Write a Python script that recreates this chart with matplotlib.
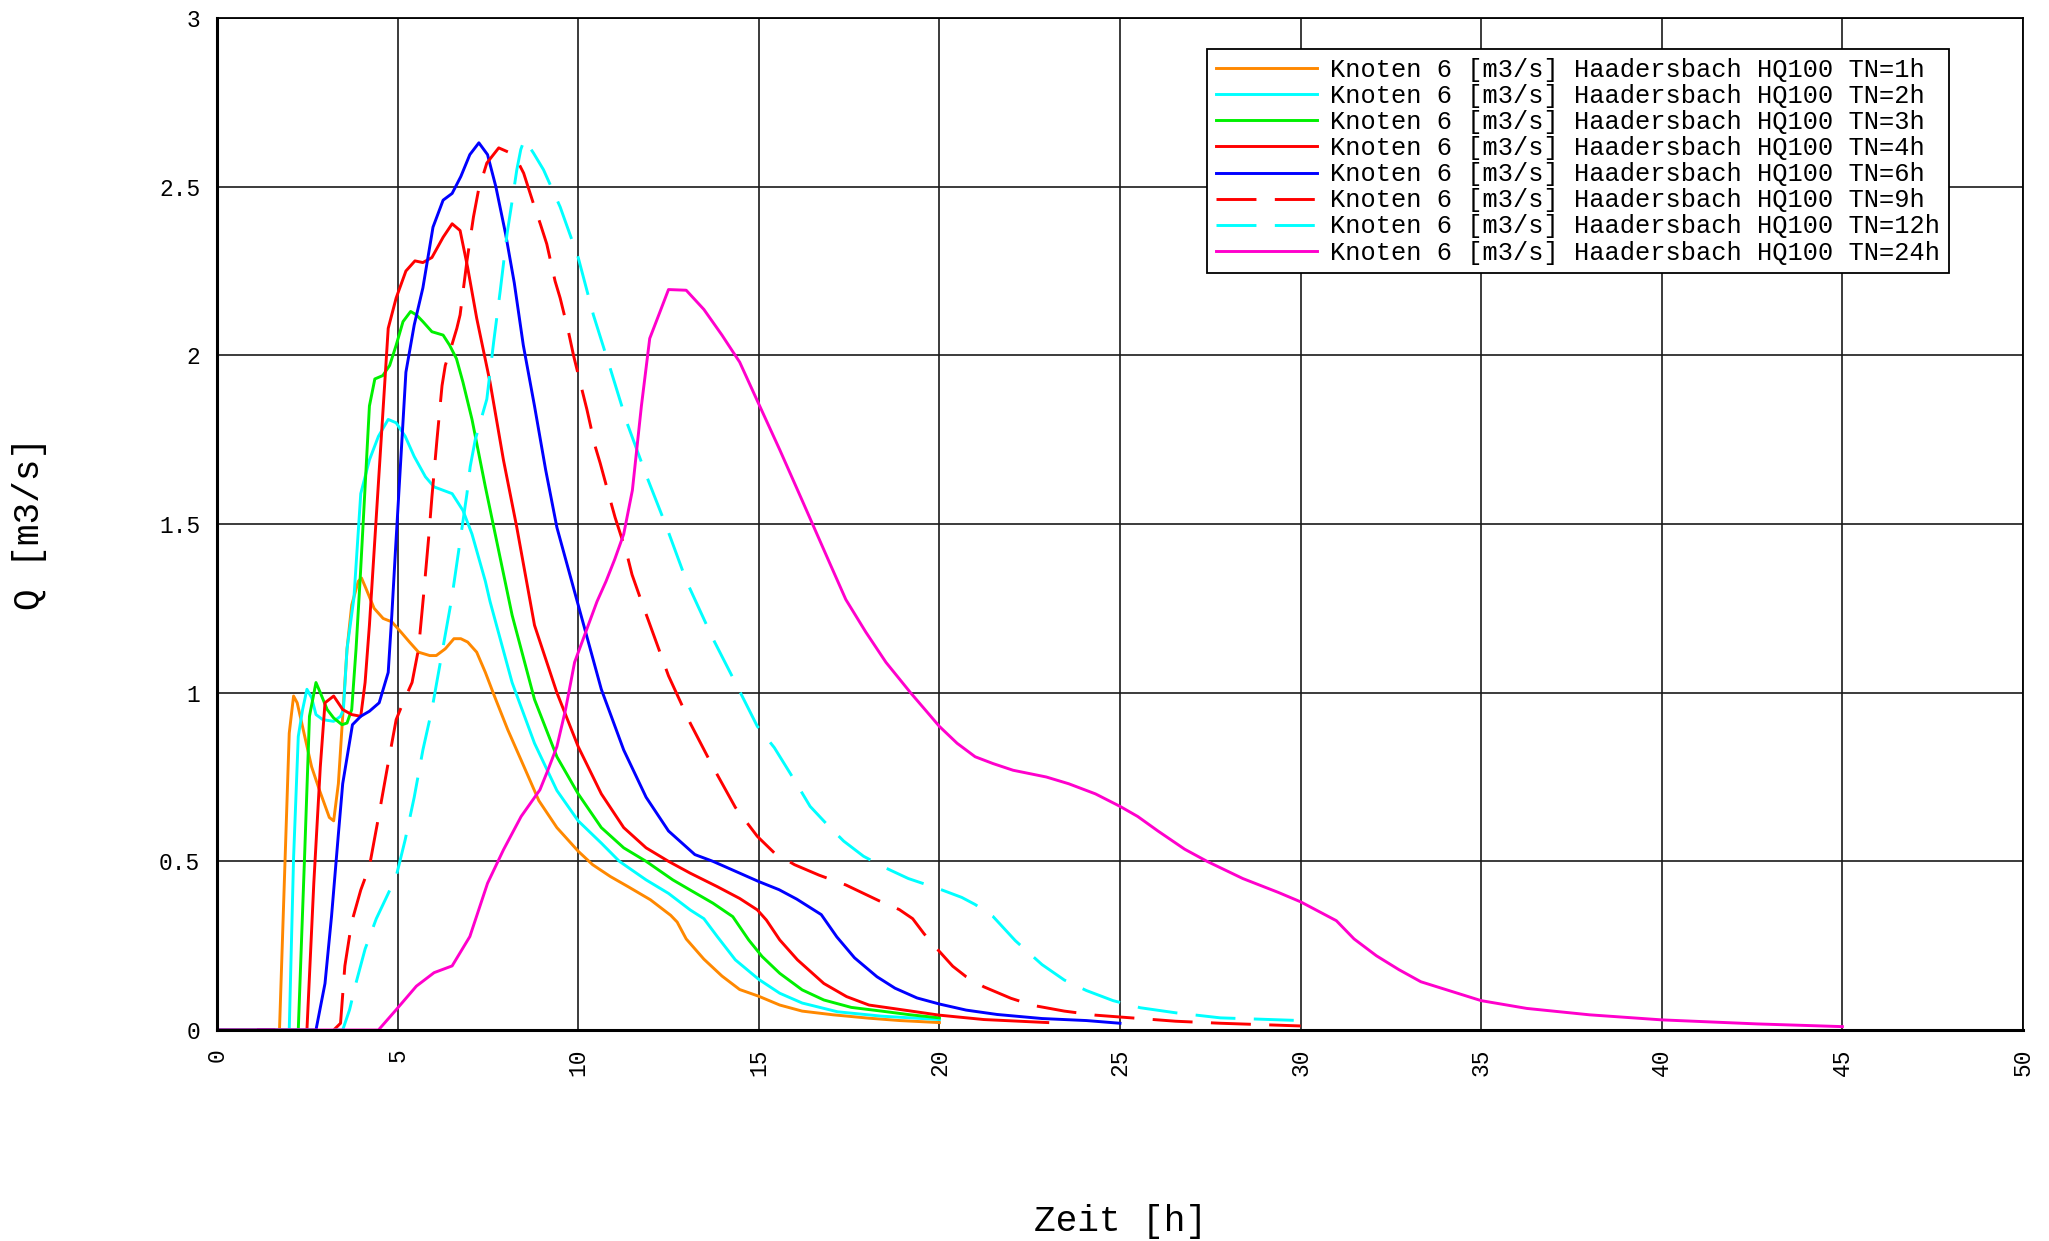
import matplotlib
matplotlib.use('Agg')
import matplotlib.pyplot as plt
from matplotlib.ticker import FormatStrFormatter

plt.rcParams['font.family'] = ['Liberation Mono', 'DejaVu Sans Mono']

# Hydrographs, Knoten 6 Haadersbach HQ100
t_1h = [0, 1.73, 1.88, 2.0, 2.12, 2.22, 2.43, 2.62, 2.84, 3.11, 3.23, 3.36, 3.48, 3.6, 3.73,
        3.91, 4.0, 4.12, 4.35, 4.6, 4.84, 5.09, 5.33, 5.58, 5.89, 6.07, 6.32, 6.56, 6.75, 6.94,
        7.19, 7.43, 7.68, 8.05, 8.42, 8.91, 9.41, 10.0, 10.4, 10.89, 11.38, 12.0, 12.56, 12.74,
        12.99, 13.48, 13.98, 14.47, 15.0, 15.58, 16.2, 17.06, 18.05, 18.9, 20.0]
q_1h = [0, 0, 0.49, 0.88, 0.99, 0.97, 0.87, 0.78, 0.71, 0.63, 0.62, 0.73, 0.93, 1.13, 1.26,
        1.33, 1.34, 1.31, 1.25, 1.22, 1.21, 1.18, 1.15, 1.12, 1.11, 1.11, 1.13, 1.16, 1.16, 1.15,
        1.12, 1.06, 0.99, 0.89, 0.80, 0.68, 0.60, 0.53, 0.49, 0.455, 0.425, 0.386, 0.34, 0.32,
        0.27, 0.21, 0.16, 0.12, 0.10, 0.074, 0.056, 0.045, 0.035, 0.028, 0.022]

t_2h = [0, 2.0, 2.12, 2.25, 2.37, 2.49, 2.62, 2.74, 2.93, 3.23, 3.42, 3.5, 3.6, 3.79, 3.98,
        4.22, 4.47, 4.74, 4.96, 5.21, 5.46, 5.77, 6.01, 6.26, 6.51, 6.81, 7.06, 7.43, 7.56, 8.17,
        8.79, 9.41, 10.0, 10.64, 11.14, 11.88, 12.5, 13.1, 13.48, 13.85, 14.35, 15.0, 15.58,
        16.2, 17.18, 18.4, 20.0]
q_2h = [0, 0, 0.51, 0.87, 0.95, 1.01, 0.985, 0.935, 0.92, 0.915, 0.93, 0.95, 1.13, 1.28, 1.59,
        1.69, 1.76, 1.81, 1.80, 1.76, 1.70, 1.64, 1.61, 1.60, 1.59, 1.54, 1.47, 1.33, 1.27, 1.03,
        0.85, 0.71, 0.62, 0.554, 0.50, 0.445, 0.405, 0.356, 0.33, 0.277, 0.208, 0.15, 0.109,
        0.08, 0.054, 0.041, 0.031]

t_3h = [0, 2.25, 2.43, 2.56, 2.74, 2.86, 3.05, 3.23, 3.46, 3.6, 3.73, 3.85, 3.97, 4.22, 4.37,
        4.59, 4.78, 4.96, 5.15, 5.36, 5.52, 5.7, 5.95, 6.26, 6.44, 6.63, 6.81, 7.06, 7.43, 7.8,
        8.17, 8.79, 9.41, 10.0, 10.64, 11.26, 11.88, 12.62, 13.1, 13.73, 14.28, 14.72, 15.09,
        15.58, 16.2, 16.8, 17.56, 18.4, 19.2, 20.0]
q_3h = [0, 0, 0.53, 0.93, 1.03, 1.0, 0.95, 0.925, 0.905, 0.91, 0.95, 1.13, 1.35, 1.85, 1.93,
        1.94, 1.97, 2.03, 2.10, 2.13, 2.12, 2.10, 2.07, 2.06, 2.03, 1.99, 1.92, 1.81, 1.61, 1.42,
        1.23, 0.98, 0.81, 0.70, 0.60, 0.54, 0.50, 0.445, 0.415, 0.376, 0.336, 0.267, 0.218,
        0.168, 0.119, 0.089, 0.067, 0.056, 0.045, 0.036]

t_4h = [0, 2.49, 2.68, 2.86, 2.99, 3.23, 3.48, 3.73, 3.98, 4.1, 4.22, 4.74, 4.96, 5.23, 5.48,
        5.7, 5.95, 6.26, 6.51, 6.73, 6.94, 7.19, 7.56, 7.93, 8.3, 8.79, 9.41, 10.0, 10.64, 11.26,
        11.88, 12.5, 13.1, 13.85, 14.47, 14.96, 15.21, 15.58, 16.07, 16.8, 17.43, 18.05, 18.77,
        20.0, 21.23, 23.0]
q_4h = [0, 0, 0.435, 0.78, 0.97, 0.99, 0.95, 0.935, 0.93, 1.03, 1.2, 2.08, 2.17, 2.25, 2.28,
        2.275, 2.29, 2.35, 2.39, 2.37, 2.26, 2.11, 1.92, 1.69, 1.49, 1.2, 1.0, 0.84, 0.70, 0.60,
        0.54, 0.50, 0.465, 0.425, 0.39, 0.356, 0.326, 0.267, 0.208, 0.138, 0.099, 0.074, 0.063,
        0.044, 0.031, 0.022]

t_6h = [0, 2.74, 2.99, 3.17, 3.36, 3.48, 3.75, 3.98, 4.22, 4.49, 4.74, 4.84, 4.94, 5.23, 5.46,
        5.7, 5.98, 6.26, 6.51, 6.75, 7.0, 7.25, 7.49, 7.72, 7.99, 8.23, 8.48, 8.79, 9.1, 9.41,
        10.0, 10.64, 11.26, 11.88, 12.5, 13.23, 13.73, 15.0, 15.56, 16.05, 16.73, 17.16, 17.65,
        18.27, 18.77, 19.38, 20.0, 20.74, 21.6, 22.84, 24.07, 25.0]
q_6h = [0, 0, 0.138, 0.336, 0.58, 0.73, 0.905, 0.93, 0.945, 0.97, 1.06, 1.23, 1.42, 1.95, 2.09,
        2.20, 2.38, 2.46, 2.48, 2.53, 2.595, 2.63, 2.595, 2.50, 2.36, 2.215, 2.03, 1.85, 1.66,
        1.49, 1.26, 1.01, 0.83, 0.69, 0.59, 0.52, 0.50, 0.44, 0.416, 0.388, 0.342, 0.276, 0.214,
        0.158, 0.124, 0.095, 0.077, 0.059, 0.046, 0.034, 0.028, 0.02]

t_9h = [0, 3.23, 3.42, 3.54, 3.73, 3.98, 4.22, 4.47, 4.72, 4.96, 5.15, 5.4, 5.58, 5.72, 5.86,
        5.95, 6.09, 6.23, 6.32, 6.5, 6.64, 6.73, 6.92, 7.1, 7.24, 7.47, 7.8, 8.12, 8.3, 8.49,
        8.76, 8.95, 9.13, 9.36, 9.5, 9.73, 9.87, 10.1, 10.24, 10.47, 10.61, 10.89, 11.02, 11.35,
        11.49, 11.72, 12.5, 13.1, 13.73, 14.35, 14.96, 15.43, 15.99, 16.67, 17.41, 18.33, 18.89,
        19.26, 19.57, 19.94, 20.37, 20.74, 21.23, 21.98, 22.59, 23.46, 24.32, 25.31, 26.54,
        27.78, 30.0]
q_9h = [0, 0, 0.02, 0.19, 0.32, 0.415, 0.485, 0.63, 0.78, 0.92, 0.97, 1.03, 1.13, 1.29, 1.46,
        1.58, 1.75, 1.91, 1.97, 2.03, 2.08, 2.12, 2.28, 2.41, 2.49, 2.57, 2.615, 2.6, 2.58, 2.54,
        2.45, 2.39, 2.33, 2.22, 2.17, 2.07, 2.0, 1.90, 1.84, 1.73, 1.68, 1.57, 1.52, 1.41,
        1.35, 1.28, 1.05, 0.91, 0.78, 0.66, 0.574, 0.525, 0.49, 0.459, 0.43, 0.383, 0.357,
        0.33, 0.286, 0.24, 0.189, 0.158, 0.128, 0.094, 0.073, 0.056, 0.044, 0.036, 0.026,
        0.020, 0.012]

t_12h = [0, 3.48, 3.67, 3.85, 4.1, 4.41, 4.72, 4.96, 5.21, 5.46, 5.7, 5.95, 6.2, 6.5, 6.69,
         6.92, 7.01, 7.15, 7.47, 7.66, 7.84, 8.03, 8.16, 8.3, 8.41, 8.51, 8.76, 9.04, 9.5, 10.0,
         10.42, 10.89, 11.35, 11.9, 12.45, 13.0, 13.73, 14.35, 14.96, 15.43, 15.99, 16.42,
         16.91, 17.35, 17.9, 18.52, 19.14, 20.0, 20.62, 20.99, 21.48, 22.1, 22.84, 23.46, 24.07,
         24.81, 25.56, 26.54, 27.78, 30.0]
q_12h = [0, 0, 0.06, 0.14, 0.24, 0.33, 0.40, 0.455, 0.564, 0.69, 0.83, 0.95, 1.10, 1.28, 1.42,
         1.59, 1.67, 1.75, 1.87, 2.04, 2.19, 2.36, 2.45, 2.55, 2.61, 2.64, 2.6, 2.55, 2.44, 2.29,
         2.12, 1.96, 1.80, 1.64, 1.49, 1.33, 1.16, 1.03, 0.90, 0.837, 0.74, 0.663, 0.607, 0.56,
         0.515, 0.48, 0.449, 0.418, 0.393, 0.372, 0.337, 0.265, 0.194, 0.148, 0.117, 0.087,
         0.066, 0.051, 0.036, 0.028]

t_24h = [0, 4.47, 4.96, 5.52, 6.01, 6.51, 7.0, 7.49, 7.93, 8.42, 8.94, 9.16, 9.41, 9.65, 9.9,
         10.21, 10.52, 10.77, 11.01, 11.26, 11.5, 11.75, 11.98, 12.25, 12.5, 12.99, 13.48, 13.98,
         14.47, 14.96, 15.58, 16.2, 16.98, 17.41, 17.96, 18.52, 19.2, 20.0, 20.49, 20.99, 21.48,
         22.04, 22.96, 23.58, 24.32, 25.0, 25.49, 26.05, 26.79, 27.41, 28.4, 29.38, 30.0, 30.99,
         31.48, 32.1, 32.72, 33.33, 35.0, 36.26, 38.0, 40.0, 42.65, 45.0]
q_24h = [0, 0, 0.06, 0.13, 0.17, 0.19, 0.277, 0.435, 0.534, 0.633, 0.712, 0.77, 0.84, 0.95, 1.09,
         1.18, 1.27, 1.33, 1.395, 1.47, 1.60, 1.85, 2.05, 2.125, 2.195, 2.193, 2.136, 2.06, 1.98,
         1.865, 1.72, 1.57, 1.38, 1.276, 1.18, 1.09, 1.0, 0.90, 0.85, 0.81, 0.79, 0.77, 0.75,
         0.73, 0.70, 0.663, 0.633, 0.59, 0.536, 0.50, 0.449, 0.408, 0.38, 0.324, 0.27, 0.22,
         0.179, 0.143, 0.087, 0.064, 0.045, 0.030, 0.018, 0.01]

durations = ['1h', '2h', '3h', '4h', '6h', '9h', '12h', '24h']
times = [t_1h, t_2h, t_3h, t_4h, t_6h, t_9h, t_12h, t_24h]
flows = [q_1h, q_2h, q_3h, q_4h, q_6h, q_9h, q_12h, q_24h]
colors = ['#FF8800', '#00FFFF', '#00F000', '#FF0000', '#0000FF', '#FF0000', '#00FFFF', '#FF00CC']
dashed = (0, (13.7, 6.3))
styles = ['-', '-', '-', '-', '-', dashed, dashed, '-']

x_ticks = list(range(0, 51, 5))
y_ticks = [0, 0.5, 1, 1.5, 2, 2.5, 3]

fig = plt.figure(figsize=(20.49, 12.41), dpi=100)
ax = fig.add_axes([217 / 2049, 1 - 1030 / 1241, 1806 / 2049, 1012 / 1241])

for tn, t, q, c, ls in zip(durations, times, flows, colors, styles):
    ax.plot(t, q, color=c, ls=ls, lw=2.1,
            label=f'Knoten 6 [m3/s] Haadersbach HQ100 TN={tn}')

ax.set_xlim(0, 50)
ax.set_ylim(0, 3)
ax.set_xticks(x_ticks)
ax.set_yticks(y_ticks)
ax.yaxis.set_major_formatter(FormatStrFormatter('%g'))
ax.tick_params(axis='x', length=0, pad=13, labelsize=16.5, labelrotation=90)
ax.tick_params(axis='y', length=0, pad=12, labelsize=16.5)
ax.grid(True, color='#1a1a1a', lw=1.2)
ax.set_axisbelow(True)

for side in ['left', 'bottom']:
    ax.spines[side].set_linewidth(2.2)
for side in ['top', 'right']:
    ax.spines[side].set_linewidth(1.3)

ax.set_xlabel('Zeit [h]', fontsize=26, va='center')
ax.xaxis.set_label_coords(0.5, -0.189)
ax.set_ylabel('Q [m3/s]', fontsize=26, va='center')
ax.yaxis.set_label_coords(-0.104, 0.5)

leg = ax.legend(loc='upper left', bbox_to_anchor=(0.548, 0.969), borderaxespad=0,
                fancybox=False, edgecolor='black', framealpha=1, fontsize=18.3,
                handlelength=4.0, handletextpad=0.5, borderpad=0.35, labelspacing=0.08)
leg.get_frame().set_linewidth(1.3)

fig.savefig('out.png', dpi=100)
